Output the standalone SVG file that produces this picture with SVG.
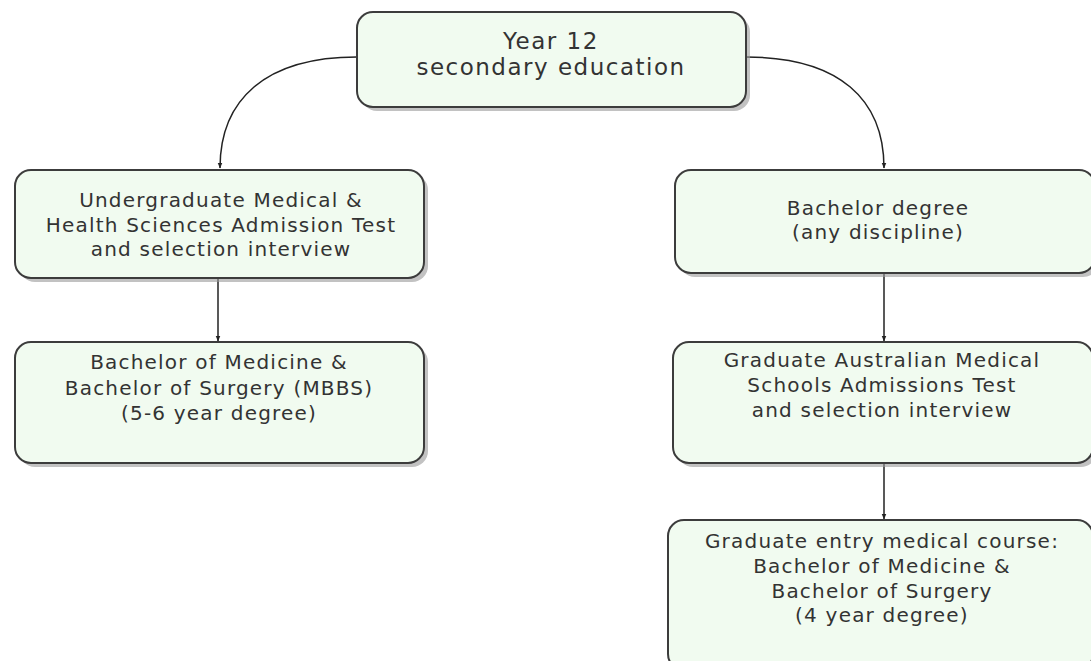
<svg xmlns="http://www.w3.org/2000/svg" width="1091" height="661" viewBox="0 0 1091 661">
<defs>
<style>
.box{fill:#f1fbf0;stroke:#3c3c3c;stroke-width:2}
.sh{fill:#9a9a9a;opacity:0.6}
.t{font-family:"DejaVu Sans",sans-serif;font-size:20px;letter-spacing:1.2px;fill:#333;text-anchor:middle}
.big{font-size:23px;letter-spacing:1.5px}
.c{fill:none;stroke:#222;stroke-width:1.5}
</style>
<marker id="ah" viewBox="0 0 10 10" refX="9" refY="5" markerWidth="6" markerHeight="6" orient="auto" markerUnits="userSpaceOnUse">
<path d="M0,1 L10,5 L0,9 z" fill="#222"/>
</marker>
</defs>
<rect width="1091" height="661" fill="#ffffff"/>
<g id="connectors">
<path class="c" d="M357,57 C265,57 220,100 220,168" marker-end="url(#ah)"/>
<path class="c" d="M746,57 C840,57 884,100 884,168" marker-end="url(#ah)"/>
<path class="c" d="M218,279 L218,341" marker-end="url(#ah)"/>
<path class="c" d="M884,274 L884,341" marker-end="url(#ah)"/>
<path class="c" d="M884,464 L884,519" marker-end="url(#ah)"/>
</g>
<g id="n1">
<rect class="sh" x="361" y="16" width="389" height="95" rx="16"/>
<rect class="box" x="357" y="12" width="389" height="95" rx="16"/>
<text class="t big" x="551" y="49">Year 12</text>
<text class="t big" x="551" y="75">secondary education</text>
</g>
<g id="n2">
<rect class="sh" x="19" y="174" width="409" height="108" rx="16"/>
<rect class="box" x="15" y="170" width="409" height="108" rx="16"/>
<text class="t" x="221" y="207">Undergraduate Medical &amp;</text>
<text class="t" x="221" y="232">Health Sciences Admission Test</text>
<text class="t" x="221" y="256">and selection interview</text>
</g>
<g id="n3">
<rect class="sh" x="19" y="346" width="409" height="121" rx="16"/>
<rect class="box" x="15" y="342" width="409" height="121" rx="16"/>
<text class="t" x="219" y="369">Bachelor of Medicine &amp;</text>
<text class="t" x="219" y="395">Bachelor of Surgery (MBBS)</text>
<text class="t" x="219" y="420">(5-6 year degree)</text>
</g>
<g id="n4">
<rect class="sh" x="679" y="174" width="420" height="103" rx="16"/>
<rect class="box" x="675" y="170" width="420" height="103" rx="16"/>
<text class="t" x="878" y="215">Bachelor degree</text>
<text class="t" x="878" y="239">(any discipline)</text>
</g>
<g id="n5">
<rect class="sh" x="677" y="346" width="420" height="121" rx="16"/>
<rect class="box" x="673" y="342" width="420" height="121" rx="16"/>
<text class="t" x="882" y="367">Graduate Australian Medical</text>
<text class="t" x="882" y="392">Schools Admissions Test</text>
<text class="t" x="882" y="417">and selection interview</text>
</g>
<g id="n6">
<rect class="sh" x="672" y="524" width="425" height="150" rx="16"/>
<rect class="box" x="668" y="520" width="425" height="150" rx="16"/>
<text class="t" x="882" y="548">Graduate entry medical course:</text>
<text class="t" x="882" y="573">Bachelor of Medicine &amp;</text>
<text class="t" x="882" y="598">Bachelor of Surgery</text>
<text class="t" x="882" y="622">(4 year degree)</text>
</g>
</svg>
